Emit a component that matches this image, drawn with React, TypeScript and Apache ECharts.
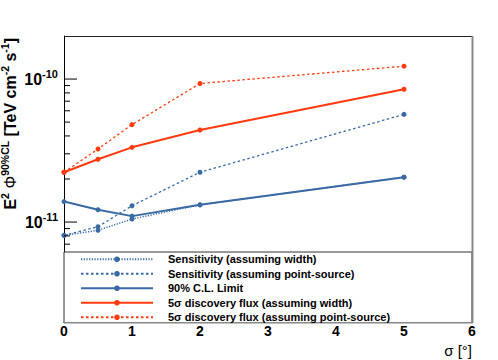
import React, { useEffect, useRef } from 'react';
import * as echarts from 'echarts';

const sigmaValues = [0, 0.5, 1, 2, 5];
const sensitivityWidth = [8.07e-12, 8.75e-12, 1.05e-11, 1.32e-11, 2.06e-11];
const sensitivityPoint = [8.07e-12, 9.27e-12, 1.3e-11, 2.23e-11, 5.66e-11];
const clLimit = [1.39e-11, 1.22e-11, 1.1e-11, 1.32e-11, 2.06e-11];
const discoveryWidth = [2.23e-11, 2.75e-11, 3.33e-11, 4.4e-11, 8.49e-11];
const discoveryPoint = [2.23e-11, 3.24e-11, 4.8e-11, 9.31e-11, 1.23e-10];

const seriesNames = [
  'Sensitivity (assuming width)',
  'Sensitivity (assuming point-source)',
  '90% C.L. Limit',
  '5σ discovery flux (assuming width)',
  '5σ discovery flux (assuming point-source)',
];

const yMajorTicks = [1e-11, 1e-10];
const yMinorTicks = [
  3e-12, 4e-12, 5e-12, 6e-12, 7e-12, 8e-12, 9e-12,
  2e-11, 3e-11, 4e-11, 5e-11, 6e-11, 7e-11, 8e-11, 9e-11,
];

const BLUE = '#3a6aa3';
const RED = '#ff3a0f';
const FONT = '"Liberation Sans", Arial, Helvetica, sans-serif';

function pairs(ys: number[]) {
  return sigmaValues.map((x, i) => [x, ys[i]]);
}

function tickSeries(values: number[], len: number) {
  return {
    type: 'custom',
    silent: true,
    z: 3,
    data: values.map((v) => [0, v]),
    renderItem: (_params: any, api: any) => {
      const p = api.coord([api.value(0), api.value(1)]);
      return {
        type: 'line',
        shape: { x1: p[0], y1: p[1], x2: p[0] + len, y2: p[1] },
        style: { stroke: '#000', lineWidth: 1 },
      };
    },
  };
}

export default function App() {
  const ref = useRef<HTMLDivElement>(null);

  useEffect(() => {
    if (!ref.current) return;
    const chart = echarts.init(ref.current, null, { renderer: 'svg' });

    const lineSeries = [
      { name: seriesNames[0], data: pairs(sensitivityWidth), color: BLUE, type: [1.2, 1.5], width: 1.5 },
      { name: seriesNames[1], data: pairs(sensitivityPoint), color: BLUE, type: [2.5, 2.5], width: 1.3 },
      { name: seriesNames[2], data: pairs(clLimit), color: BLUE, type: 'solid', width: 2 },
      { name: seriesNames[3], data: pairs(discoveryWidth), color: RED, type: 'solid', width: 2 },
      { name: seriesNames[4], data: pairs(discoveryPoint), color: RED, type: [2.5, 2.5], width: 1.3 },
    ].map((s) => ({
      type: 'line',
      name: s.name,
      data: s.data,
      symbol: 'circle',
      symbolSize: 5,
      z: 2,
      itemStyle: { color: s.color },
      lineStyle: { color: s.color, type: s.type, width: s.width },
    }));

    chart.setOption({
      animation: false,
      backgroundColor: '#fff',
      grid: { left: 64, right: 26, top: 36, bottom: 38, show: false },
      xAxis: {
        type: 'value',
        min: 0,
        max: 6,
        interval: 1,
        axisLine: { show: true, lineStyle: { color: '#000', width: 1 } },
        axisTick: { show: false },
        splitLine: { show: false },
        axisLabel: {
          margin: 2,
          fontFamily: FONT,
          fontWeight: 'bold',
          fontSize: 14,
          color: '#000',
        },
      },
      yAxis: {
        type: 'log',
        logBase: 10,
        min: 2e-12,
        max: 2e-10,
        axisLine: { show: true, lineStyle: { color: '#000', width: 1 } },
        axisTick: { show: false },
        splitLine: { show: false },
        axisLabel: {
          margin: 6,
          color: '#000',
          fontFamily: FONT,
          fontWeight: 'bold',
          fontSize: 16,
          formatter: (v: number) => {
            const e = Math.log10(v);
            const r = Math.round(e);
            if (Math.abs(e - r) > 1e-6) return '';
            return '{b|10}{s|' + r + '}';
          },
          rich: {
            b: { fontFamily: FONT, fontWeight: 'bold', fontSize: 16, lineHeight: 22, color: '#000' },
            s: { fontFamily: FONT, fontWeight: 'bold', fontSize: 11, lineHeight: 11, verticalAlign: 'top', color: '#000' },
          },
        },
      },
      legend: {
        data: seriesNames,
        orient: 'vertical',
        left: 64,
        top: 252,
        padding: [0, 0, 0, 16],
        itemWidth: 72,
        itemHeight: 7,
        itemGap: 0,
        z: 10,
        selectedMode: false,
        textStyle: {
          fontFamily: FONT,
          fontWeight: 'bold',
          fontSize: 11,
          lineHeight: 14.5,
          color: '#000',
          padding: [0, 0, 0, 10],
        },
      },
      graphic: [
        {
          type: 'rect',
          z: 5,
          shape: { x: 64, y: 252, width: 408, height: 70.5 },
          style: { fill: '#fff', stroke: '#333', lineWidth: 1 },
        },
        {
          type: 'line',
          z: 6,
          shape: { x1: 64, y1: 36.5, x2: 472, y2: 36.5 },
          style: { stroke: '#222', lineWidth: 1 },
        },
        {
          type: 'line',
          z: 6,
          shape: { x1: 472.5, y1: 36, x2: 472.5, y2: 323 },
          style: { stroke: '#888', lineWidth: 2 },
        },
        {
          type: 'line',
          z: 6,
          shape: { x1: 64, y1: 322.8, x2: 473, y2: 322.8 },
          style: { stroke: '#888', lineWidth: 1.5 },
        },
        {
          type: 'text',
          z: 6,
          x: 10,
          y: 38,
          rotation: Math.PI / 2,
          style: {
            text: '{m|E}{s|2}{m| }{p|Φ}{s|90%CL}{m| [TeV cm}{s|-2}{m| s}{s|-1}{m|]}',
            align: 'right',
            verticalAlign: 'middle',
            rich: {
              m: { fontFamily: FONT, fontWeight: 'bold', fontSize: 16, lineHeight: 22, fill: '#000' },
              p: { fontFamily: FONT, fontWeight: 'normal', fontSize: 16, lineHeight: 22, fill: '#000' },
              s: { fontFamily: FONT, fontWeight: 'bold', fontSize: 10.5, lineHeight: 10, verticalAlign: 'top', fill: '#000' },
            },
          },
        },
        {
          type: 'text',
          z: 6,
          x: 472,
          y: 350,
          style: {
            text: 'σ [°]',
            align: 'right',
            verticalAlign: 'middle',
            fontFamily: FONT,
            fontSize: 15,
            fill: '#000',
          },
        },
      ],
      series: [
        ...lineSeries,
        tickSeries(yMajorTicks, 13),
        tickSeries(yMinorTicks, 6),
      ],
    });

    return () => chart.dispose();
  }, []);

  return <div ref={ref} style={{ width: 498, height: 360, position: 'absolute', left: 0, top: 0 }} />;
}
